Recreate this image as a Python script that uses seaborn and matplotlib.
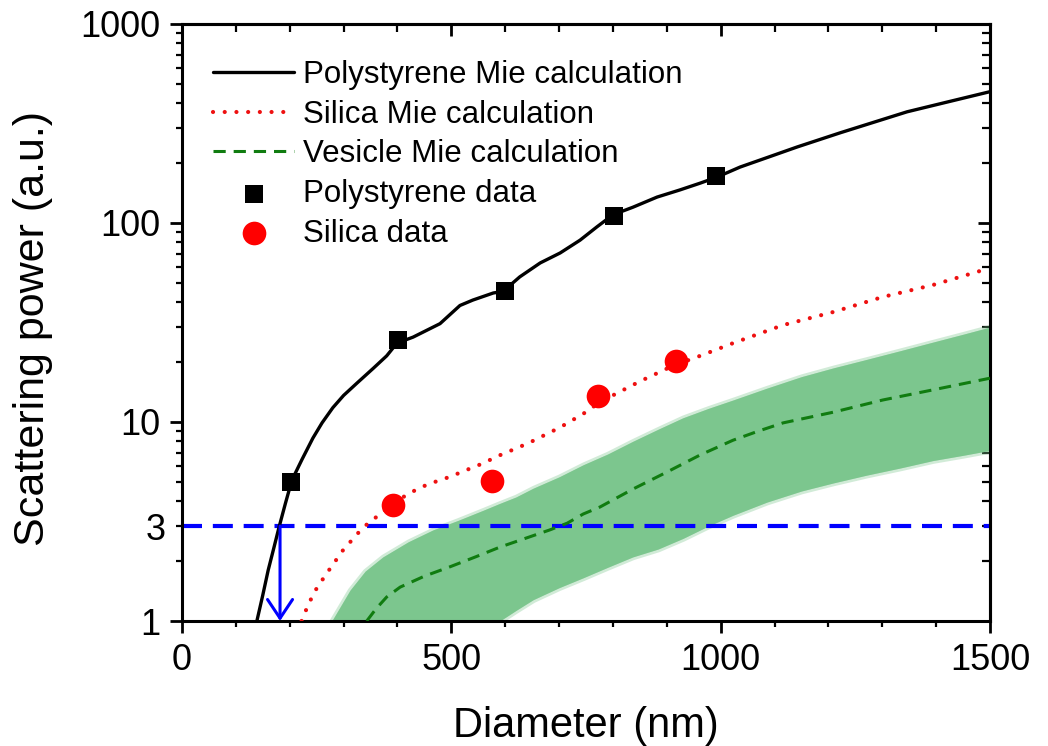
import matplotlib
matplotlib.use("Agg")
import matplotlib.pyplot as plt
import seaborn as sns
from matplotlib.ticker import FixedLocator, FuncFormatter, LogLocator, MultipleLocator, NullFormatter

# ---------------------------------------------------------------------------
# Data
# ---------------------------------------------------------------------------
ps_mie_x = [139, 150, 160, 170, 180, 192, 204, 223, 243, 260, 280, 300, 325, 355, 380, 399, 429, 479,
            516, 540, 578, 596, 627, 665, 702, 739, 770, 800, 837, 882, 924, 962, 993, 1036,
            1090, 1142, 1222, 1346, 1420, 1500]
ps_mie_y = [1.0, 1.35, 1.8, 2.3, 2.95, 3.9, 5.1, 6.5, 8.3, 9.9, 11.8, 13.6, 15.7, 18.6, 21.5, 24.9, 26.7, 31.2,
            38.5, 41.0, 44.5, 45.3, 53.6, 63, 70.7, 82, 95.5, 110, 120, 135, 146.5, 158.6, 170, 191,
            215, 241, 284, 362, 405, 457]

si_mie_x = [222, 235, 250, 269, 299, 336, 362, 392, 417, 440, 460, 497, 522, 559, 584, 622, 646,
            702, 745, 776, 850, 912, 962, 1023, 1116, 1209, 1301, 1394, 1500]
si_mie_y = [1.0, 1.22, 1.46, 1.74, 2.27, 2.95, 3.35, 3.9, 4.3, 4.65, 4.9, 5.3, 5.65, 6.2, 6.7, 7.4, 7.9,
            9.4, 11.0, 12.6, 16.0, 19.2, 21.5, 24.9, 30.7, 35.7, 42.5, 48.8, 59.4]

ves_mie_x = [343, 360, 380, 405, 450, 497, 545, 590, 637, 683, 715, 745, 776, 837, 900, 962, 1023,
             1070, 1116, 1209, 1301, 1394, 1500]
ves_mie_y = [1.0, 1.15, 1.32, 1.48, 1.68, 1.87, 2.1, 2.35, 2.6, 2.87, 3.1, 3.45, 3.74, 4.6, 5.6, 6.83, 8.1,
             9.0, 9.9, 11.2, 12.9, 14.5, 16.6]

band_x = [278, 312, 340, 373, 420, 466, 512, 559, 590, 620, 652, 700, 745, 790, 837, 884, 930, 977,
          1023, 1086, 1150, 1209, 1270, 1333, 1394, 1450, 1500]
band_hi = [1.0, 1.43, 1.78, 2.1, 2.5, 2.87, 3.2, 3.6, 3.9, 4.2, 4.65, 5.3, 6.1, 6.9, 8.0, 9.2, 10.5, 11.7,
           12.9, 14.8, 16.9, 18.7, 20.6, 22.8, 25.2, 27.6, 30.0]
band_lo = [1.0, 1.0, 1.0, 1.0, 1.0, 1.0, 1.0, 1.0, 1.0, 1.13, 1.28, 1.47, 1.65, 1.86, 2.1, 2.3, 2.6, 3.0,
           3.4, 3.96, 4.5, 4.94, 5.4, 5.87, 6.4, 6.8, 7.2]

ps_data_x = [202, 401, 600, 802, 991]
ps_data_y = [5.0, 25.8, 45.5, 108, 172]

si_data_x = [392, 576, 772, 917]
si_data_y = [3.83, 5.05, 13.5, 20.3]

threshold = 3
cutoff_d = 182

x_ticks = [0, 500, 1000, 1500]
y_ticks = [1, 10, 100, 1000]
y_tick_labels = ["1", "10", "100", "1000"]

# ---------------------------------------------------------------------------
# Style
# ---------------------------------------------------------------------------
sns.set_style("ticks")
plt.rcParams["font.family"] = ["Liberation Sans", "DejaVu Sans"]
plt.rcParams.update({
    "axes.linewidth": 2.2,
    "axes.edgecolor": "black",
    "text.color": "black",
    "axes.labelcolor": "black",
    "xtick.color": "black",
    "ytick.color": "black",
})

fig = plt.figure(figsize=(10.48, 7.46), dpi=100)
ax = fig.add_axes([0.17366, 0.16756, 0.77099, 0.80027])

# vesicle spread band, with a soft rim like the blurred original
ax.fill_between(band_x, band_lo, band_hi, color="#7cc68e", lw=4, edgecolor="#7cc68e",
                alpha=0.35, zorder=1)
ax.fill_between(band_x, band_lo, band_hi, color="#7cc68e", lw=0, zorder=1)

sns.lineplot(x=ps_mie_x, y=ps_mie_y, ax=ax, color="black", lw=2.4,
             label="Polystyrene Mie calculation", zorder=4)
sns.lineplot(x=si_mie_x, y=si_mie_y, ax=ax, color="#ee1111", lw=3.0,
             linestyle=(0, (0.01, 2.8)), dash_capstyle="round",
             label="Silica Mie calculation", zorder=4)
sns.lineplot(x=ves_mie_x, y=ves_mie_y, ax=ax, color="#107c10", lw=2.2,
             linestyle=(0, (4, 2.6)), label="Vesicle Mie calculation", zorder=3)
sns.scatterplot(x=ps_data_x, y=ps_data_y, ax=ax, marker="s", s=160, color="black",
                edgecolor="black", linewidth=0, label="Polystyrene data", zorder=5)
sns.scatterplot(x=si_data_x, y=si_data_y, ax=ax, marker="o", s=290, color="red",
                edgecolor="red", linewidth=0, label="Silica data", zorder=5)

ax.axhline(threshold, color="#0000ff", lw=3.0, linestyle=(0, (4.8, 2.6)), zorder=2)
ax.annotate("", xy=(cutoff_d, 1), xytext=(cutoff_d, threshold),
            arrowprops=dict(arrowstyle="->, head_length=0.45, head_width=0.3",
                            color="#0000ff", lw=2.2, mutation_scale=30,
                            shrinkA=0, shrinkB=0), zorder=6)

# axes
ax.set_yscale("log")
ax.set_xlim(0, 1500)
ax.set_ylim(1, 1000)
ax.set_xticks(x_ticks)
ax.xaxis.set_minor_locator(MultipleLocator(100))
ax.yaxis.set_major_locator(FixedLocator(y_ticks))
ax.set_yticklabels(y_tick_labels)
ax.yaxis.set_minor_locator(LogLocator(base=10, subs=[2, 3, 4, 5, 6, 7, 8, 9]))
ax.yaxis.set_minor_formatter(FuncFormatter(lambda v, _: "3" if abs(v - 3) < 1e-6 else ""))

ax.tick_params(which="both", direction="out", labelsize=26, width=2.0, pad=7)
ax.tick_params(which="major", length=8.6)
ax.tick_params(which="minor", length=4.5, width=1.6)

top = ax.secondary_xaxis("top")
top.set_xticks(x_ticks)
top.xaxis.set_minor_locator(MultipleLocator(100))
top.tick_params(which="both", direction="in", labeltop=False, width=2.0)
top.tick_params(which="major", length=8.6)
top.tick_params(which="minor", length=5.5, width=1.6)
top.xaxis.set_major_formatter(NullFormatter())

right = ax.secondary_yaxis("right")
right.yaxis.set_major_locator(FixedLocator(y_ticks))
right.yaxis.set_minor_locator(LogLocator(base=10, subs=[2, 3, 4, 5, 6, 7, 8, 9]))
right.yaxis.set_major_formatter(NullFormatter())
right.yaxis.set_minor_formatter(NullFormatter())
right.tick_params(which="both", direction="in", labelright=False, width=2.0)
right.tick_params(which="major", length=8.6)
right.tick_params(which="minor", length=5.5, width=1.6)

ax.set_xlabel("Diameter (nm)", fontsize=30)
ax.set_ylabel("Scattering power (a.u.)", fontsize=31)
ax.xaxis.set_label_coords(0.5, -0.142)
ax.yaxis.set_label_coords(-0.16, 0.49)

leg = ax.legend(loc="upper left", bbox_to_anchor=(0.0384, 0.94), borderaxespad=0,
                borderpad=0, frameon=False, fontsize=22.5, handlelength=2.6,
                handletextpad=0.27, labelspacing=0.31)

fig.savefig("out.png", dpi=100)
plt.close(fig)
